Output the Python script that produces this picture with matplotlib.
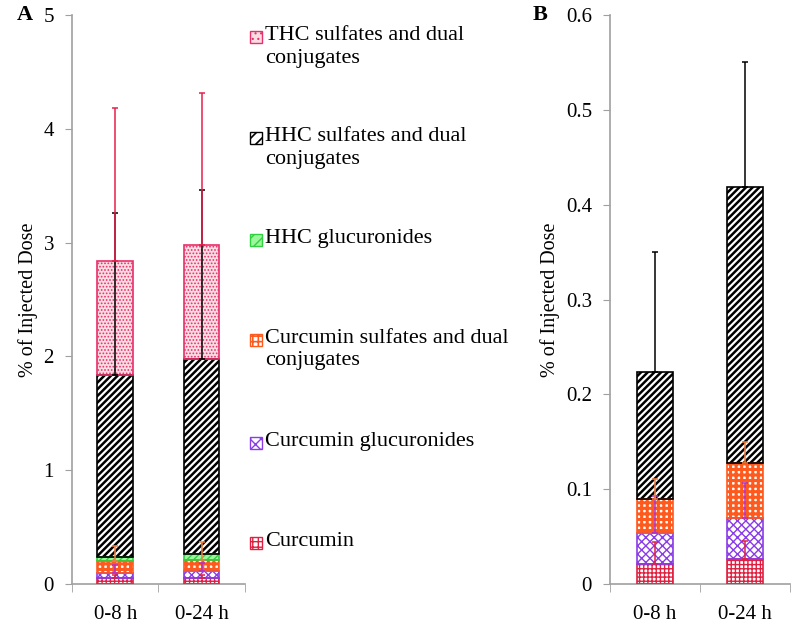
import matplotlib
matplotlib.use('Agg')
import matplotlib.pyplot as plt
from matplotlib.patches import Rectangle
import numpy as np

plt.rcParams['font.family'] = ['Liberation Serif', 'DejaVu Serif']

categories = ['0-8 h', '0-24 h']
series = ['Curcumin', 'Curcumin glucuronides', 'Curcumin sulfates and dual\nconjugates',
          'HHC glucuronides', 'HHC sulfates and dual\nconjugates', 'THC sulfates and dual\nconjugates']

# panel A values (% of injected dose), stacked bottom to top
a_curcumin = [0.05, 0.05]
a_curc_gluc = [0.05, 0.065]
a_curc_sulf = [0.10, 0.095]
a_hhc_gluc = [0.04, 0.05]
a_hhc_sulf = [1.60, 1.72]
a_thc_sulf = [1.00, 1.00]
a_err = [[0.03, 0.03], [0.07, 0.065], [0.13, 0.16], [0, 0], [1.42, 1.48], [1.34, 1.34]]

# panel B values
b_curcumin = [0.021, 0.026]
b_curc_gluc = [0.033, 0.044]
b_curc_sulf = [0.036, 0.058]
b_hhc_gluc = [0, 0]
b_hhc_sulf = [0.134, 0.291]
b_thc_sulf = [0, 0]
b_err = [[0.023, 0.019], [0.039, 0.036], [0.021, 0.022], [0, 0], [0.126, 0.132], [0, 0]]

# style per series: face, hatch, hatch colour, edge colour, error colour, hatch width
styles = [
    ('white', '++++', '#E02040', '#E02040', '#E02040', 1.0),
    ('white', 'xxxx', '#8A3CE6', '#8A3CE6', '#B030D0', 1.0),
    ('white', '+++', '#FF5A1E', '#FF5A1E', '#F08040', 2.2),
    ('#9CF79C', '/////', '#30D040', '#30D040', '#30D040', 1.0),
    ('white', '/////', 'black', 'black', 'black', 1.8),
    ('#FADCE4', '.....', '#E8306A', '#E8306A', '#E8204A', 0.8),
]

fig = plt.figure(figsize=(8, 6.32), dpi=100)
axA = fig.add_axes([0.09, 0.076, 0.216, 0.900])
axB = fig.add_axes([0.7625, 0.076, 0.225, 0.900])


def draw(ax, data, errs, width):
    x = np.arange(len(categories))
    bottom = np.zeros(len(categories))
    tops = []
    for vals, st in zip(data, styles):
        vals = np.array(vals)
        face, hatch, hc, ec, _, hw = st
        mask = vals > 0
        with plt.rc_context({'hatch.linewidth': hw}):
            ax.bar(x[mask], vals[mask], width, bottom=bottom[mask], color=face, hatch=hatch,
                   edgecolor=hc, linewidth=0, zorder=2)
        ax.bar(x[mask], vals[mask], width, bottom=bottom[mask], fill=False,
               edgecolor=ec, linewidth=1.2, zorder=3)
        bottom = bottom + vals
        tops.append((bottom.copy(), mask))
    # error bars (upper only), HHC black first so red THC lies over it
    for i in range(len(data)):
        top, mask = tops[i]
        e = np.array(errs[i])
        m = mask & (e > 0)
        if not m.any():
            continue
        ax.errorbar(x[m], top[m], yerr=[np.zeros(m.sum()), e[m]], fmt='none',
                    ecolor=styles[i][4], elinewidth=1.1, capsize=2, capthick=1.1, zorder=4)
    ax.set_xlim(-0.5, len(categories) - 0.5)
    ax.set_xticks(x)
    ax.set_xticklabels(categories, fontsize=15)
    ax.set_xticks(np.arange(-0.5, len(categories)), minor=True)
    ax.tick_params(axis='x', which='major', length=0, pad=15)
    ax.tick_params(axis='x', which='minor', length=6, color='#A0A0A0', direction='out')
    ax.tick_params(axis='y', length=5, color='#A0A0A0', labelsize=15, pad=8)
    for s in ['top', 'right']:
        ax.spines[s].set_visible(False)
    for s in ['left', 'bottom']:
        ax.spines[s].set_color('#A0A0A0')
        ax.spines[s].set_linewidth(1.2)
    ax.set_ylabel('% of Injected Dose', fontsize=14.5)


draw(axA, [a_curcumin, a_curc_gluc, a_curc_sulf, a_hhc_gluc, a_hhc_sulf, a_thc_sulf], a_err, 0.41)
axA.set_ylim(0, 5)
axA.set_yticks(range(6))
axA.set_yticklabels([str(v) for v in range(6)])

draw(axB, [b_curcumin, b_curc_gluc, b_curc_sulf, b_hhc_gluc, b_hhc_sulf, b_thc_sulf], b_err, 0.41)
axB.set_ylim(0, 0.6)
yt = [0, 0.1, 0.2, 0.3, 0.4, 0.5, 0.6]
axB.set_yticks(yt)
axB.set_yticklabels(['0'] + [f'{v:.1f}' for v in yt[1:]])

fig.text(0.021, 1 - 15 / 632, 'A', fontsize=16, fontweight='bold', va='center')
fig.text(0.666, 1 - 15 / 632, 'B', fontsize=16, fontweight='bold', va='center')

# legend, top entry first
leg_y = [37, 138, 240, 340, 443, 543]
for (label, st), y in zip(zip(series[::-1], styles[::-1]), leg_y):
    face, hatch, hc, ec, _, hw = st
    yy = 1 - y / 632
    sq = 12
    with plt.rc_context({'hatch.linewidth': min(hw, 1.2)}):
        fig.add_artist(Rectangle((250 / 800, yy - sq / 2 / 632), sq / 800, sq / 632, transform=fig.transFigure,
                                 facecolor=face, hatch=hatch[:3], edgecolor=hc, linewidth=0))
    fig.add_artist(Rectangle((250 / 800, yy - sq / 2 / 632), sq / 800, sq / 632, transform=fig.transFigure,
                             fill=False, edgecolor=ec, linewidth=1))
    fig.text(265 / 800, yy + 11 / 632, label, fontsize=16, va='top', linespacing=1.25)

fig.savefig('out.png', dpi=100)
